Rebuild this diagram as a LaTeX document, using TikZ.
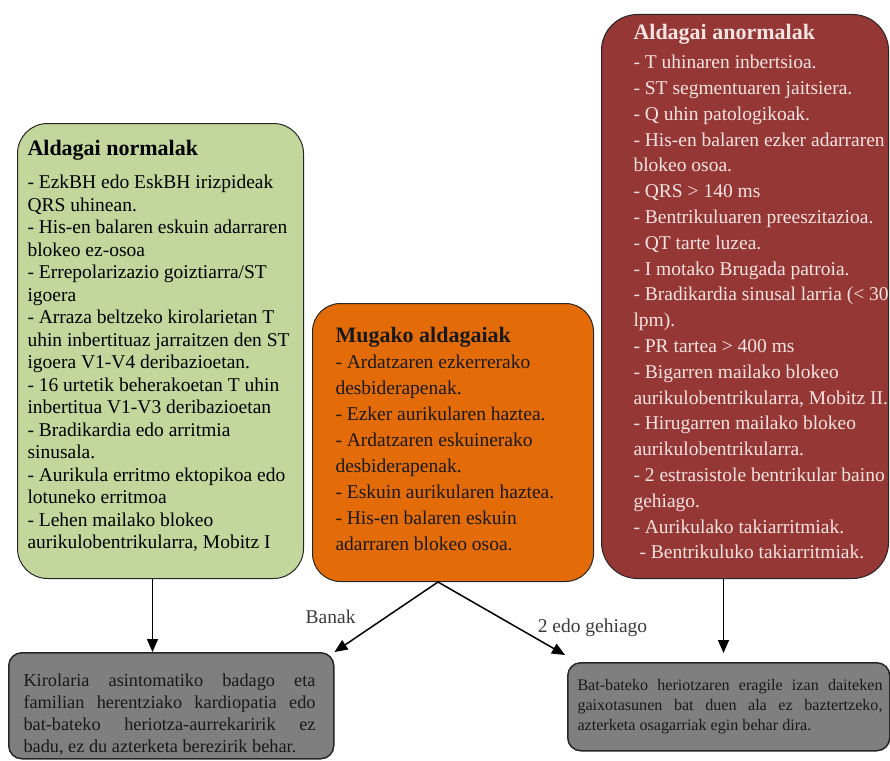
\documentclass[tikz,border=0pt]{standalone}
\usepackage{fontspec}
\setmainfont{Liberation Serif}
\usetikzlibrary{arrows.meta}
\usetikzlibrary{calc}
\definecolor{normalgreen}{HTML}{C3D69B}
\definecolor{mugaorange}{HTML}{E36C09}
\definecolor{anormalred}{HTML}{953735}
\definecolor{resultgray}{HTML}{7F7F7F}
\definecolor{palerose}{HTML}{F6E4E3}
\definecolor{labelgray}{HTML}{3A3A3A}
\tikzset{
every picture/.style={line width=1pt, >={Triangle[length=13pt,width=11pt]}},
%%%%%%%%%%  Box styles
variantbox/.style={draw=black!85, rounded corners=30pt, anchor=north west,
                   inner sep=0},
normalbox/.style={variantbox, fill=normalgreen},
mugabox/.style={variantbox, fill=mugaorange, rounded corners=28pt},
anormalbox/.style={variantbox, fill=anormalred, rounded corners=36pt},
resultbox/.style={draw=black!85, line width=1.5pt, rounded corners=13pt,
                  fill=resultgray, anchor=north west, inner sep=0},
%%%%%%%  Text styles
boxtext/.style={anchor=north west, inner sep=0, align=left},
resulttext/.style={anchor=north west, inner sep=0, align=left,
                   text=black!90},
branchlabel/.style={inner sep=0, text=labelgray,
                    font=\fontsize{19.5}{22}\selectfont},
%%%%%%%  Connectors
flowarrow/.style={->, line width=1.5pt, black}
}
\newcommand{\boxhead}[1]{{\fontsize{22}{24}\selectfont\bfseries #1}}

\begin{document}
\begin{tikzpicture}[x=1pt, y=-1pt]
\useasboundingbox (0,0) rectangle (890,760);
% the three groups of variants
\node[normalbox, minimum width=286pt, minimum height=455pt] (normal) at (17,123) {};
\node[mugabox, minimum width=281pt, minimum height=278pt] (mugak) at (312,303) {};
\node[anormalbox, minimum width=287pt, minimum height=564pt] (anormal) at (601,14) {};
\node[boxtext, font=\fontsize{19.5}{22.5}\selectfont] (normal-text) at (27,140)
{\boxhead{Aldagai normalak}\\[10.5pt]
- EzkBH edo EskBH irizpideak\\
QRS uhinean.\\
- His-en balaren eskuin adarraren\\
blokeo ez-osoa\\
- Errepolarizazio goiztiarra/ST\\
igoera\\
- Arraza beltzeko kirolarietan T\\
uhin inbertituaz jarraitzen den ST\\
igoera V1-V4 deribazioetan.\\
- 16 urtetik beherakoetan T uhin\\
inbertitua V1-V3 deribazioetan\\
- Bradikardia edo arritmia\\
sinusala.\\
- Aurikula erritmo ektopikoa edo\\
lotuneko erritmoa\\
- Lehen mailako blokeo\\
aurikulobentrikularra, Mobitz I};
\node[boxtext, text=black!90, font=\fontsize{19.5}{26}\selectfont] (mugak-text) at (335,327)
{\boxhead{Mugako aldagaiak}\\
- Ardatzaren ezkerrerako\\
desbiderapenak.\\
- Ezker aurikularen haztea.\\
- Ardatzaren eskuinerako\\
desbiderapenak.\\
- Eskuin aurikularen haztea.\\
- His-en balaren eskuin\\
adarraren blokeo osoa.};
\node[boxtext, text=palerose, font=\fontsize{19.5}{25.8}\selectfont] (anormal-text) at (633,24)
{\boxhead{Aldagai anormalak}\\[3.2pt]
- T uhinaren inbertsioa.\\
- ST segmentuaren jaitsiera.\\
- Q uhin patologikoak.\\
- His-en balaren ezker adarraren\\
blokeo osoa.\\
- QRS > 140 ms\\
- Bentrikuluaren preeszitazioa.\\
- QT tarte luzea.\\
- I motako Brugada patroia.\\
- Bradikardia sinusal larria (< 30\\
lpm).\\
- PR tartea > 400 ms\\
- Bigarren mailako blokeo\\
aurikulobentrikularra, Mobitz II.\\
- Hirugarren mailako blokeo\\
aurikulobentrikularra.\\
- 2 estrasistole bentrikular baino\\
gehiago.\\
- Aurikulako takiarritmiak.\\
\hspace*{6pt}- Bentrikuluko takiarritmiak.};

% results
\node[resultbox, minimum width=325pt, minimum height=106pt] (kirolaria) at (8,652) {};
\node[resultbox, minimum width=322pt, minimum height=88pt] (azterketa) at (567,662) {};
\node[resulttext, font=\fontsize{18.3}{22}\selectfont] (kirolaria-text) at (23,673)
{\makebox[292pt][s]{Kirolaria asintomatiko badago eta}\\
\makebox[292pt][s]{familian herentziako kardiopatia edo}\\
\makebox[292pt][s]{bat-bateko heriotza-aurrekaririk ez}\\
badu, ez du azterketa berezirik behar.};
\node[resulttext, font=\fontsize{16.1}{20}\selectfont] (azterketa-text) at (577,679)
{\makebox[305pt][s]{Bat-bateko heriotzaren eragile izan daiteken}\\
\makebox[305pt][s]{gaixotasunen bat duen ala ez baztertzeko,}\\
azterketa osagarriak egin behar dira.};

% arrows
\coordinate (normal-out) at ($(normal.south)+(-8,0)$);
\coordinate (anormal-out) at ($(anormal.south)+(-21.5,0)$);
\coordinate (split) at ($(mugak.south)+(-15,0)$);
\coordinate (azterketa-in) at ($(azterketa.north west)+(-2,-7)$);
\draw[flowarrow] (normal-out) -- (normal-out |- kirolaria.north);
\draw[flowarrow, shorten >=9pt] (anormal-out) -- (anormal-out |- azterketa.north);
\draw[flowarrow] (split) -- node[branchlabel, pos=0.5, left=30pt] (banak) {Banak} (kirolaria.north east);
\draw[flowarrow] (split) -- node[branchlabel, pos=0.63, right=19pt] (gehiago) {2 edo gehiago} (azterketa-in);
\end{tikzpicture}
\end{document}
